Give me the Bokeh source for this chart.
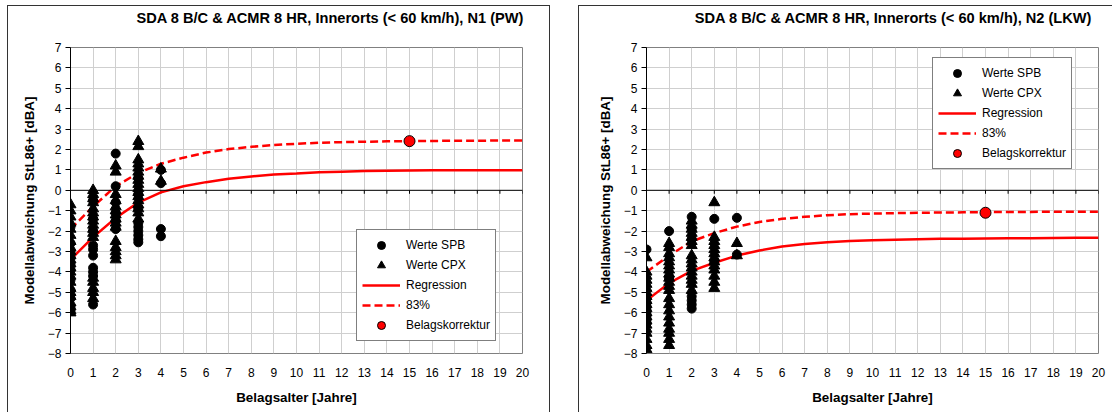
from bokeh.plotting import figure
from bokeh.layouts import row
from bokeh.models import Span, Legend, LegendItem, FixedTicker, Range1d, Title
from bokeh.embed import file_html
from bokeh.resources import INLINE

FONT = "Liberation Sans"

# ---------------- data ----------------
years = list(range(21))
x_ticks = list(range(0, 21))
y_ticks = list(range(-8, 8))

# N1 (PW)
n1_title = "SDA 8 B/C & ACMR 8 HR, Innerorts (< 60 km/h), N1 (PW)"
n1_cpx_x = [0]*23 + [1]*17 + [2]*15 + [3]*17 + [4]*2
n1_cpx_y = [-0.7, -1.0, -1.3, -1.6, -1.9, -2.2, -2.5, -2.8, -3.0, -3.2, -3.4, -3.6, -3.8, -4.0, -4.2, -4.5, -4.8, -5.0, -5.2, -5.5, -5.7, -5.9, -6.0,
            0.0, -0.2, -0.4, -0.6, -0.9, -1.1, -1.3, -1.5, -1.7, -1.9, -2.1, -2.3, -4.3, -4.5, -4.8, -5.0, -5.3,
            1.2, 0.9, -0.2, -0.5, -0.8, -1.0, -1.2, -1.4, -1.6, -1.8, -2.5, -2.8, -3.0, -3.2, -3.4,
            2.4, 2.15, 1.5, 1.3, 1.1, 0.9, 0.7, 0.5, 0.3, 0.1, -0.1, -0.3, -0.5, -0.7, -0.9, -1.1, -1.4,
            1.05, 0.45]
n1_spb_x = [0]*11 + [1]*10 + [2]*6 + [3]*9 + [4]*4
n1_spb_y = [-1.8, -2.6, -3.0, -3.3, -3.6, -3.9, -4.4, -4.9, -5.3, -5.7, -5.9,
            -0.5, -1.4, -2.0, -2.7, -2.9, -3.2, -3.8, -4.0, -4.2, -5.6,
            1.8, 0.2, -0.6, -1.1, -1.5, -1.9,
            0.6, -0.2, -0.9, -1.6, -1.8, -2.0, -2.2, -2.4, -2.55,
            1.0, 0.35, -1.9, -2.25]
n1_regression = [-3.4, -2.3, -1.35, -0.6, -0.1, 0.2, 0.4, 0.57, 0.68, 0.77, 0.82, 0.88, 0.91, 0.94, 0.96, 0.97, 0.98, 0.98, 0.98, 0.98, 0.98]
n1_p83 = [-1.9, -0.8, 0.2, 0.85, 1.3, 1.6, 1.85, 2.02, 2.13, 2.22, 2.28, 2.33, 2.36, 2.38, 2.4, 2.41, 2.42, 2.43, 2.43, 2.44, 2.44]
n1_korr_x = [15]
n1_korr_y = [2.41]

# N2 (LKW)
n2_title = "SDA 8 B/C & ACMR 8 HR, Innerorts (< 60 km/h), N2 (LKW)"
n2_cpx_x = [0]*20 + [1]*21 + [2]*16 + [3]*13 + [4]*2
n2_cpx_y = [-3.3, -4.0, -4.2, -4.4, -4.6, -4.8, -5.0, -5.2, -5.4, -5.6, -5.8, -6.0, -6.2, -6.4, -6.6, -6.8, -7.0, -7.3, -7.6, -7.8,
            -2.6, -2.8, -3.1, -3.3, -3.5, -3.7, -3.9, -4.1, -4.3, -4.5, -4.7, -4.9, -5.3, -5.6, -5.9, -6.2, -6.5, -6.8, -7.0, -7.3, -7.6,
            -1.5, -1.7, -1.9, -2.1, -2.3, -2.5, -2.7, -3.2, -3.4, -3.6, -3.8, -4.0, -4.2, -4.4, -4.6, -4.9,
            -0.6, -2.3, -2.5, -2.7, -2.9, -3.1, -3.3, -3.5, -3.7, -3.9, -4.2, -4.5, -4.8,
            -2.6, -3.2]
n2_spb_x = [0]*7 + [1]*2 + [2]*7 + [3]*2 + [4]*2
n2_spb_y = [-2.9, -5.5, -5.7, -5.9, -6.1, -6.3, -6.5,
            -2.0, -4.3,
            -1.3, -1.9, -2.4, -5.2, -5.4, -5.6, -5.8,
            -1.4, -3.5,
            -1.35, -3.15]
n2_regression = [-5.4, -4.55, -3.95, -3.55, -3.2, -2.95, -2.75, -2.63, -2.55, -2.49, -2.45, -2.42, -2.4, -2.38, -2.37, -2.36, -2.35, -2.35, -2.34, -2.33, -2.32]
n2_p83 = [-4.0, -3.2, -2.5, -2.1, -1.78, -1.55, -1.4, -1.3, -1.22, -1.17, -1.14, -1.12, -1.1, -1.09, -1.08, -1.07, -1.06, -1.06, -1.05, -1.05, -1.05]
n2_korr_x = [15]
n2_korr_y = [-1.1]

legend_labels = ["Werte SPB", "Werte CPX", "Regression", "83%", "Belagskorrektur"]
x_label = "Belagsalter [Jahre]"
y_label = "Modellabweichung StL86+ [dBA]"


def make_chart(title, spb_x, spb_y, cpx_x, cpx_y, reg, p83, kx, ky,
               mbl, mbr, fw, legend_loc, title_offset, border_css, margin):
    p = figure(frame_width=fw, frame_height=305,
               min_border_left=mbl, min_border_right=mbr,
               min_border_top=41, min_border_bottom=60,
               x_range=Range1d(0, 20), y_range=Range1d(-8, 7),
               output_backend="svg", toolbar_location=None,
               styles=border_css, margin=margin)
    p.background_fill_color = "white"
    p.border_fill_color = "white"
    p.outline_line_color = "#808080"
    p.outline_line_width = 1

    # real title (outer), spacer title between it and the frame
    p.title.text = title
    p.title.align = "right"
    p.title.offset = title_offset
    p.title.standoff = 0
    p.title.text_font = FONT
    p.title.text_font_size = "14.6px"
    p.title.text_font_style = "bold"
    p.title.text_color = "black"
    p.add_layout(Title(text=" ", text_font_size="1px", standoff=19), "above")

    p.xaxis.ticker = FixedTicker(ticks=x_ticks)
    p.yaxis.ticker = FixedTicker(ticks=y_ticks)
    p.xaxis.minor_tick_line_color = None
    p.yaxis.minor_tick_line_color = None
    p.xaxis.axis_line_color = None
    p.xaxis.major_tick_line_color = None
    p.xaxis.major_label_standoff = 8
    p.yaxis.axis_line_color = "black"
    p.yaxis.major_tick_line_color = "black"
    p.yaxis.major_tick_out = 5
    p.yaxis.major_tick_in = 0
    p.yaxis.major_label_standoff = 4
    for ax in (p.xaxis, p.yaxis):
        ax.major_label_text_font = FONT
        ax.major_label_text_font_size = "12px"
        ax.major_label_text_color = "black"
        ax.axis_label_text_font = FONT
        ax.axis_label_text_font_size = "13.4px"
        ax.axis_label_text_font_style = "bold"
        ax.axis_label_text_color = "black"
    p.xaxis.axis_label = x_label
    p.yaxis.axis_label = y_label
    p.xaxis.axis_label_standoff = 10
    p.yaxis.axis_label_standoff = 8

    p.grid.grid_line_color = "#cfcfcf"
    p.grid.grid_line_width = 1

    # x axis crossing at 0
    p.add_layout(Span(location=0, dimension="width", line_color="black", line_width=1))
    p.segment(x0=years, y0=[0]*len(years), x1=years, y1=[-0.17]*len(years),
              line_color="black", line_width=1)

    r_reg = p.line(years, reg, line_color="#ff0000", line_width=2.5)
    r_83 = p.line(years, p83, line_color="#ff0000", line_width=2.5, line_dash="8 4")
    r_cpx = p.scatter(cpx_x, cpx_y, marker="triangle", size=11,
                      fill_color="black", line_color="black")
    r_spb = p.scatter(spb_x, spb_y, marker="circle", size=9,
                      fill_color="black", line_color="black")
    r_korr = p.scatter(kx, ky, marker="circle", size=11,
                       fill_color="#ff0000", line_color="black", line_width=1)

    legend = Legend(items=[
        LegendItem(label=legend_labels[0], renderers=[r_spb]),
        LegendItem(label=legend_labels[1], renderers=[r_cpx]),
        LegendItem(label=legend_labels[2], renderers=[r_reg]),
        LegendItem(label=legend_labels[3], renderers=[r_83]),
        LegendItem(label=legend_labels[4], renderers=[r_korr]),
    ], location=legend_loc)
    legend.label_text_font = FONT
    legend.label_text_font_size = "12px"
    legend.label_text_color = "black"
    legend.border_line_color = "black"
    legend.border_line_width = 1
    legend.background_fill_color = "white"
    legend.background_fill_alpha = 1
    legend.glyph_width = 38
    legend.glyph_height = 20
    legend.label_height = 20
    legend.spacing = 0
    legend.padding = 5
    legend.margin = 0
    legend.label_standoff = 6
    p.add_layout(legend)
    return p


p1 = make_chart(n1_title, n1_spb_x, n1_spb_y, n1_cpx_x, n1_cpx_y, n1_regression, n1_p83,
                n1_korr_x, n1_korr_y, 62, 29, 450, (286, 12), -2,
                {"border-top": "1px solid #333", "border-left": "1px solid #333",
                 "border-right": "1px solid #333"}, (5, 0, 0, 7))
p2 = make_chart(n2_title, n2_spb_x, n2_spb_y, n2_cpx_x, n2_cpx_y, n2_regression, n2_p83,
                n2_korr_x, n2_korr_y, 67, 15, 451, (286, 184), 6,
                {"border-top": "1px solid #333", "border-left": "1px solid #333"}, (5, 0, 0, 28))

layout = row(p1, p2)
open("out.html", "w").write(file_html(layout, INLINE))
